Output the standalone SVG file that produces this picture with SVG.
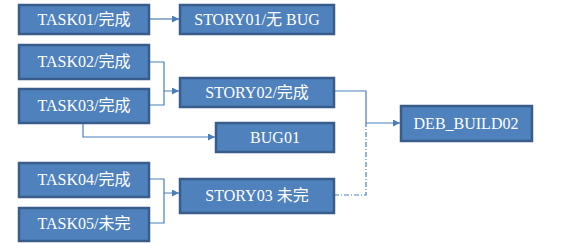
<svg xmlns="http://www.w3.org/2000/svg" width="576" height="243" viewBox="0 0 576 243" font-family="Liberation Serif, Noto Sans CJK SC, serif">
<style>
.box{fill:#4f81bd;stroke:#385d8a;stroke-width:2.5}
.lbl{font-size:16px;fill:#ffffff;text-anchor:middle}
.c{fill:none;stroke:#4a7ebb;stroke-width:1.2}
.dd{stroke-dasharray:5,2,1,2}
</style>
<defs>
<marker id="arr" viewBox="0 0 10 10" refX="10" refY="5" markerWidth="7" markerHeight="7" markerUnits="userSpaceOnUse" orient="auto">
<path d="M0,0 L10,5 L0,10 z" fill="#4a7ebb"/>
</marker>
</defs>
<g id="connectors">
<path class="c" d="M149,19 H179" marker-end="url(#arr)"/>
<path class="c" d="M149,62 H164 V91 H179" marker-end="url(#arr)"/>
<path class="c" d="M149,105 H164 V91"/>
<path class="c" d="M83,124 V137 H215" marker-end="url(#arr)"/>
<path class="c" d="M149,179 H164 V193 H179" marker-end="url(#arr)"/>
<path class="c" d="M149,223 H164 V193"/>
<path class="c" d="M334,91 H366 V123 H400" marker-end="url(#arr)"/>
<path class="c dd" d="M334,195 H366 V123"/>
</g>
<g id="task01"><rect class="box" x="19" y="5" width="130" height="29"/><text class="lbl" x="84" y="25">TASK01/完成</text></g>
<g id="story01"><rect class="box" x="180" y="5" width="154" height="29"/><text class="lbl" x="257" y="25">STORY01/无 BUG</text></g>
<g id="task02"><rect class="box" x="19" y="45" width="130" height="34"/><text class="lbl" x="84" y="67">TASK02/完成</text></g>
<g id="task03"><rect class="box" x="19" y="89" width="130" height="34"/><text class="lbl" x="84" y="111">TASK03/完成</text></g>
<g id="story02"><rect class="box" x="180" y="78" width="154" height="29"/><text class="lbl" x="257" y="98">STORY02/完成</text></g>
<g id="bug01"><rect class="box" x="216" y="123" width="118" height="29"/><text class="lbl" x="275" y="143">BUG01</text></g>
<g id="task04"><rect class="box" x="19" y="163" width="130" height="34"/><text class="lbl" x="84" y="185">TASK04/完成</text></g>
<g id="task05"><rect class="box" x="19" y="208" width="130" height="33"/><text class="lbl" x="84" y="229">TASK05/未完</text></g>
<g id="story03"><rect class="box" x="180" y="179" width="154" height="34"/><text class="lbl" x="257" y="201">STORY03 未完</text></g>
<g id="deb_build02"><rect class="box" x="401" y="106" width="131" height="35"/><text class="lbl" x="466" y="129">DEB_BUILD02</text></g>
</svg>
